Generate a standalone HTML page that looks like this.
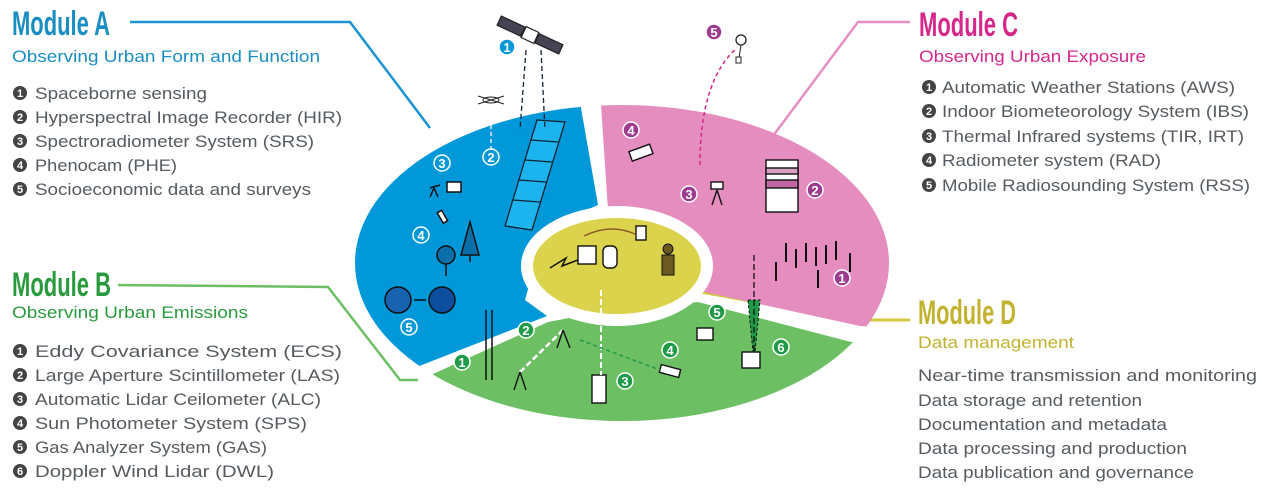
<!DOCTYPE html>
<html><head><meta charset="utf-8"><style>
html,body{margin:0;padding:0;background:#fff;width:1269px;height:497px;overflow:hidden;}
svg{display:block;overflow:hidden;font-family:"Liberation Sans",sans-serif;}
.h{font-weight:bold;font-size:34px;}
.s{font-size:17px;}
.l{font-size:17px;fill:#555b60;}
.b{fill:#444;}
</style></head><body>
<svg width="1269" height="497" viewBox="0 0 1269 497" xmlns="http://www.w3.org/2000/svg">
<defs>
<clipPath id="ell"><ellipse cx="622" cy="263" rx="267" ry="158"/></clipPath>
</defs>
<polyline points="130,22 350,22 430,128" fill="none" stroke="#1a93d0" stroke-width="2.5"/>
<polyline points="910,22 858,22 770,140" fill="none" stroke="#e58fc2" stroke-width="2.5"/>
<polyline points="118,285 328,287 400,380 418,380" fill="none" stroke="#6cbf63" stroke-width="2.5"/>
<polyline points="690,290 856,320 910,320" fill="none" stroke="#d3c73c" stroke-width="3"/>
<g clip-path="url(#ell)">
<polygon points="300,0 581,0 581,108 598,205 545,228 525,300 547,316 404,372 300,420" fill="#0098d8"/>
<polygon points="594,0 1000,0 1000,335 860,326 695,290 645,250 608,210" fill="#e58dbf"/>
<polygon points="413,383 548,322 600,312 698,302 851,342 1000,348 1000,600 300,600" fill="#6cbf63"/>
</g>
<ellipse cx="617" cy="266" rx="96" ry="60" fill="#fff"/>
<ellipse cx="617" cy="266" rx="84" ry="48" fill="#dbd34b"/>
<polygon points="600,309 612,290 625,314" fill="#dbd34b"/>
<g stroke="#123" stroke-width="1.3" fill="none">
<polygon points="537,120 565,122 532,230 505,226" fill="#1cb4ee"/>
<line x1="531" y1="140" x2="558" y2="142"/><line x1="525" y1="160" x2="552" y2="162"/><line x1="519" y1="180" x2="546" y2="182"/><line x1="513" y1="200" x2="540" y2="202"/>
<line x1="526" y1="50" x2="520" y2="130" stroke-dasharray="5,3"/><line x1="541" y1="50" x2="545" y2="130" stroke-dasharray="5,3"/>
</g>
<g transform="translate(530,35) rotate(25)" stroke="#222" stroke-width="1.2">
<rect x="-34" y="-5" width="26" height="10" fill="#445"/><rect x="8" y="-5" width="26" height="10" fill="#445"/><rect x="-7" y="-6" width="14" height="12" fill="#fff"/>
</g>
<g stroke="#222" fill="#fff"><ellipse cx="491" cy="100" rx="8" ry="3"/><line x1="478" y1="96" x2="504" y2="104"/><line x1="478" y1="104" x2="504" y2="96"/></g>
<line x1="491" y1="104" x2="491" y2="150" stroke="#fff" stroke-dasharray="4,3" stroke-width="1.3"/>
<path d="M700 165 Q 700 80 737 48" fill="none" stroke="#d6278a" stroke-width="1.5" stroke-dasharray="4,3"/>
<circle cx="741" cy="40" r="5" fill="#fff" stroke="#222" stroke-width="1.3"/><line x1="741" y1="45" x2="739" y2="58" stroke="#222"/><rect x="736" y="57" width="5" height="6" fill="#fff" stroke="#222"/>
<g stroke="#111" stroke-width="1.5">
<rect x="447" y="182" width="14" height="10" fill="#fff"/>
<line x1="430" y1="188" x2="440" y2="185"/><line x1="434" y1="188" x2="430" y2="197"/><line x1="434" y1="188" x2="438" y2="197"/>
<rect x="440" y="211" width="5" height="12" fill="#fff" transform="rotate(-30 442 217)"/>
<circle cx="446" cy="255" r="9" fill="#0a6ea8"/><line x1="446" y1="264" x2="446" y2="276"/>
<polygon points="470,222 461,255 479,255" fill="#0a6ea8"/><line x1="470" y1="255" x2="470" y2="262"/>
<circle cx="398" cy="300" r="13" fill="#1763b0"/><circle cx="442" cy="300" r="13" fill="#0d4f9e"/>
<line x1="414" y1="300" x2="426" y2="300"/>
<line x1="486" y1="310" x2="486" y2="380"/><line x1="492" y1="310" x2="492" y2="380"/>
</g>
<g stroke="#111" stroke-width="1.4">
<rect x="766" y="160" width="32" height="52" fill="#fff"/><rect x="766" y="180" width="32" height="8" fill="#c0679f"/><rect x="766" y="168" width="32" height="6" fill="#d9a0c4"/>
<rect x="630" y="148" width="22" height="10" fill="#fff" transform="rotate(-20 640 153)"/>
<line x1="717" y1="190" x2="712" y2="205"/><line x1="717" y1="190" x2="722" y2="205"/><rect x="711" y="182" width="12" height="7" fill="#fff"/>
</g>
<g stroke="#111" stroke-width="2">
<line x1="786" y1="243" x2="786" y2="262"/><line x1="796" y1="249" x2="796" y2="268"/><line x1="806" y1="243" x2="806" y2="262"/><line x1="816" y1="247" x2="816" y2="266"/><line x1="826" y1="245" x2="826" y2="264"/><line x1="836" y1="241" x2="836" y2="260"/><line x1="850" y1="253" x2="850" y2="272"/><line x1="818" y1="270" x2="818" y2="288"/><line x1="776" y1="262" x2="776" y2="281"/>
</g>
<polygon points="748,300 760,300 755,352 753,352" fill="#1f9a46" stroke="#111" stroke-dasharray="3,2"/>
<line x1="754" y1="255" x2="754" y2="355" stroke="#111" stroke-dasharray="6,3" stroke-width="1.3"/>
<g stroke="#111" stroke-width="1.4" fill="#fff">
<rect x="742" y="352" width="18" height="16"/>
<rect x="697" y="328" width="16" height="12"/>
<rect x="592" y="375" width="14" height="28"/>
<rect x="660" y="367" width="20" height="8" transform="rotate(15 670 371)"/>
</g>
<line x1="601" y1="290" x2="601" y2="375" stroke="#fff" stroke-width="2" stroke-dasharray="6,3"/>
<line x1="520" y1="372" x2="563" y2="330" stroke="#fff" stroke-width="2.5" stroke-dasharray="6,3"/>
<line x1="580" y1="340" x2="660" y2="370" stroke="#1f9a46" stroke-width="1.5" stroke-dasharray="4,3"/>
<g stroke="#111" stroke-width="1.4"><line x1="520" y1="372" x2="514" y2="390"/><line x1="520" y1="372" x2="526" y2="390"/><line x1="563" y1="330" x2="557" y2="348"/><line x1="563" y1="330" x2="570" y2="348"/></g>
<g stroke="#111" stroke-width="1.4" fill="#fff">
<rect x="578" y="246" width="18" height="18"/><rect x="603" y="246" width="14" height="22" rx="5"/>
<rect x="636" y="226" width="10" height="14"/>
</g>
<path d="M584 236 Q 610 223 635 234" fill="none" stroke="#8b5a2b" stroke-width="1.5"/>
<circle cx="668" cy="249" r="5" fill="#6b5a1f" stroke="#111"/><rect x="662" y="255" width="12" height="20" fill="#6b5a1f" stroke="#111"/>
<polyline points="550,268 566,258 562,266 578,260" fill="none" stroke="#111" stroke-width="1.5"/>
<g font-size="13" font-weight="bold" text-anchor="middle">
<g stroke="#fff" stroke-width="1.5">
<circle cx="507" cy="47" r="8" fill="#0098d8"/>
<circle cx="491" cy="157" r="8" fill="none"/><circle cx="442" cy="163" r="8" fill="none"/><circle cx="421" cy="235" r="8" fill="none"/><circle cx="409" cy="327" r="8" fill="none"/>
<circle cx="714" cy="32" r="8" fill="#9c3c8e"/><circle cx="631" cy="130" r="8" fill="#9c3c8e"/><circle cx="689" cy="194" r="8" fill="#9c3c8e"/><circle cx="815" cy="190" r="8" fill="#9c3c8e"/><circle cx="842" cy="278" r="8" fill="#9c3c8e"/>
<circle cx="462" cy="362" r="8" fill="#1f9a46"/><circle cx="526" cy="330" r="8" fill="#1f9a46"/><circle cx="625" cy="381" r="8" fill="#1f9a46"/><circle cx="670" cy="350" r="8" fill="#1f9a46"/><circle cx="717" cy="312" r="8" fill="#1f9a46"/><circle cx="781" cy="347" r="8" fill="#1f9a46"/>
</g>
<g fill="#fff">
<text x="507" y="52">1</text><text x="491" y="162">2</text><text x="442" y="168">3</text><text x="421" y="240">4</text><text x="409" y="332">5</text>
<text x="714" y="37">5</text><text x="631" y="135">4</text><text x="689" y="199">3</text><text x="815" y="195">2</text><text x="842" y="283">1</text>
<text x="462" y="367">1</text><text x="526" y="335">2</text><text x="625" y="386">3</text><text x="670" y="355">4</text><text x="717" y="317">5</text><text x="781" y="352">6</text>
</g></g>

<text class="h" x="12" y="35" fill="#1a8ec3" textLength="98" lengthAdjust="spacingAndGlyphs">Module A</text>
<text class="s" x="12" y="62" fill="#1a8ec3" textLength="308" lengthAdjust="spacingAndGlyphs">Observing Urban Form and Function</text>
<g class="l">
<text x="35" y="99" textLength="172" lengthAdjust="spacingAndGlyphs">Spaceborne sensing</text>
<text x="35" y="123" textLength="307" lengthAdjust="spacingAndGlyphs">Hyperspectral Image Recorder (HIR)</text>
<text x="35" y="147" textLength="279" lengthAdjust="spacingAndGlyphs">Spectroradiometer System (SRS)</text>
<text x="35" y="171" textLength="142" lengthAdjust="spacingAndGlyphs">Phenocam (PHE)</text>
<text x="35" y="195" textLength="276" lengthAdjust="spacingAndGlyphs">Socioeconomic data and surveys</text>
</g>
<g class="b" font-size="11" font-weight="bold" text-anchor="middle">
<circle cx="20" cy="93" r="7"/><circle cx="20" cy="117" r="7"/><circle cx="20" cy="141" r="7"/><circle cx="20" cy="165" r="7"/><circle cx="20" cy="189" r="7"/>
<circle cx="20" cy="351" r="7"/><circle cx="20" cy="375" r="7"/><circle cx="20" cy="399" r="7"/><circle cx="20" cy="423" r="7"/><circle cx="20" cy="447" r="7"/><circle cx="20" cy="471" r="7"/>
<circle cx="929" cy="87" r="7"/><circle cx="929" cy="111" r="7"/><circle cx="929" cy="136" r="7"/><circle cx="929" cy="160" r="7"/><circle cx="929" cy="185" r="7"/>
<g fill="#fff">
<text x="20" y="97">1</text><text x="20" y="121">2</text><text x="20" y="145">3</text><text x="20" y="169">4</text><text x="20" y="193">5</text>
<text x="20" y="355">1</text><text x="20" y="379">2</text><text x="20" y="403">3</text><text x="20" y="427">4</text><text x="20" y="451">5</text><text x="20" y="475">6</text>
<text x="929" y="91">1</text><text x="929" y="115">2</text><text x="929" y="140">3</text><text x="929" y="164">4</text><text x="929" y="189">5</text>
</g></g>

<text class="h" x="12" y="296" fill="#2a9a3e" textLength="99" lengthAdjust="spacingAndGlyphs">Module B</text>
<text class="s" x="12" y="318" fill="#2a9a3e" textLength="236" lengthAdjust="spacingAndGlyphs">Observing Urban Emissions</text>
<g class="l">
<text x="35" y="357" textLength="307" lengthAdjust="spacingAndGlyphs">Eddy Covariance System (ECS)</text>
<text x="35" y="381" textLength="305" lengthAdjust="spacingAndGlyphs">Large Aperture Scintillometer (LAS)</text>
<text x="35" y="405" textLength="286" lengthAdjust="spacingAndGlyphs">Automatic Lidar Ceilometer (ALC)</text>
<text x="35" y="429" textLength="272" lengthAdjust="spacingAndGlyphs">Sun Photometer System (SPS)</text>
<text x="35" y="453" textLength="232" lengthAdjust="spacingAndGlyphs">Gas Analyzer System (GAS)</text>
<text x="35" y="477" textLength="239" lengthAdjust="spacingAndGlyphs">Doppler Wind Lidar (DWL)</text>
</g>

<text class="h" x="919" y="36" fill="#d6278a" textLength="99" lengthAdjust="spacingAndGlyphs">Module C</text>
<text class="s" x="919" y="62" fill="#d6278a" textLength="227" lengthAdjust="spacingAndGlyphs">Observing Urban Exposure</text>
<g class="l">
<text x="942" y="93" textLength="293" lengthAdjust="spacingAndGlyphs">Automatic Weather Stations (AWS)</text>
<text x="942" y="117" textLength="307" lengthAdjust="spacingAndGlyphs">Indoor Biometeorology System (IBS)</text>
<text x="942" y="142" textLength="302" lengthAdjust="spacingAndGlyphs">Thermal Infrared systems (TIR, IRT)</text>
<text x="942" y="166" textLength="219" lengthAdjust="spacingAndGlyphs">Radiometer system (RAD)</text>
<text x="942" y="191" textLength="308" lengthAdjust="spacingAndGlyphs">Mobile Radiosounding System (RSS)</text>
</g>

<text class="h" x="918" y="324" fill="#c2b230" textLength="98" lengthAdjust="spacingAndGlyphs">Module D</text>
<text class="s" x="918" y="348" fill="#c2b230" textLength="156" lengthAdjust="spacingAndGlyphs">Data management</text>
<g class="l">
<text x="918" y="381" textLength="339" lengthAdjust="spacingAndGlyphs">Near-time transmission and monitoring</text>
<text x="918" y="406" textLength="224" lengthAdjust="spacingAndGlyphs">Data storage and retention</text>
<text x="918" y="430" textLength="249" lengthAdjust="spacingAndGlyphs">Documentation and metadata</text>
<text x="918" y="454" textLength="269" lengthAdjust="spacingAndGlyphs">Data processing and production</text>
<text x="918" y="478" textLength="276" lengthAdjust="spacingAndGlyphs">Data publication and governance</text>
</g>
</svg>
</body></html>
